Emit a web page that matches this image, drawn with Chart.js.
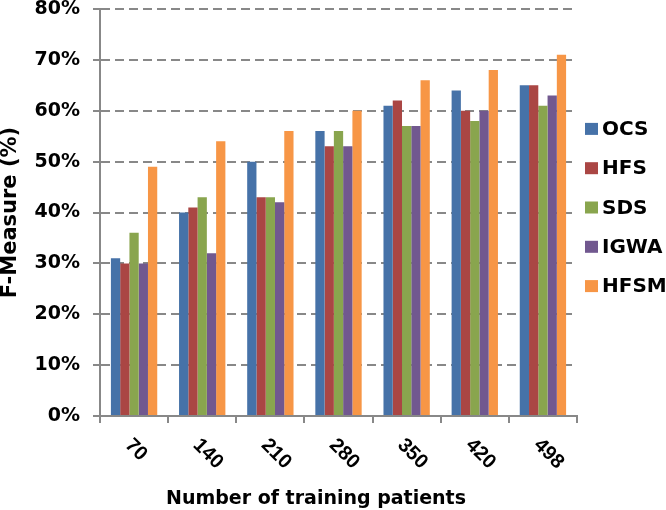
<!DOCTYPE html>
<html>
<head>
<meta charset="utf-8">
<script src="https://cdn.jsdelivr.net/npm/chart.js@4"></script>
<style>
  html, body { margin: 0; padding: 0; background: #ffffff; }
  #wrap { width: 666px; height: 510px; }
</style>
</head>
<body>
<div id="wrap"><canvas id="chart" width="666" height="510"></canvas></div>
<script>
// categories and series
const patients = ['70', '140', '210', '280', '350', '420', '498'];
const seriesNames = ['OCS', 'HFS', 'SDS', 'IGWA', 'HFSM'];
const ocs  = [31, 40, 50, 56, 61, 64, 65];
const hfs  = [30, 41, 43, 53, 62, 60, 65];
const sds  = [36, 43, 43, 56, 57, 58, 61];
const igwa = [30, 32, 42, 53, 57, 60, 63];
const hfsm = [49, 54, 56, 60, 66, 68, 71];
const colors = ['#4672a8', '#aa4644', '#89a54e', '#71588f', '#f79646'];
const xTitle = 'Number of training patients';

const WIDE = '"DejaVu Sans", sans-serif';
const ARIAL = '"Liberation Sans", Arial, sans-serif';
const GRID = '#888888';

// x labels lean down to the right, chart.js only rotates the other way
const tiltedLabels = {
    id: 'tiltedLabels',
    afterDraw(chart) {
        const sx = chart.scales.x;
        const ctx = chart.ctx;
        ctx.save();
        ctx.fillStyle = '#000';
        ctx.font = 'bold 20px ' + ARIAL;
        ctx.textAlign = 'left';
        ctx.textBaseline = 'middle';
        patients.forEach((lab, i) => {
            const x = sx.getPixelForTick(i);
            ctx.save();
            ctx.translate(x - 6, sx.top + 26);
            ctx.rotate(Math.PI / 4);
            ctx.fillText(lab, 0, 0);
            ctx.restore();
        });
        // axis title sits a bit left of the plot centre in the original
        ctx.font = 'bold 19px ' + WIDE;
        ctx.textAlign = 'center';
        ctx.textBaseline = 'alphabetic';
        ctx.fillText(xTitle, 316, 504);
        ctx.restore();
    }
};

// legend drawn by hand: narrow gap to the plot but wide row spacing
const sideLegend = {
    id: 'sideLegend',
    afterDraw(chart) {
        const ctx = chart.ctx;
        const area = chart.chartArea;
        const mid = (area.top + area.bottom) / 2 - 5;
        ctx.save();
        ctx.font = 'bold 20px ' + WIDE;
        ctx.textBaseline = 'middle';
        ctx.textAlign = 'left';
        chart.data.datasets.forEach((d, i) => {
            const y = mid + (i - 2) * 39.3;
            ctx.fillStyle = d.backgroundColor;
            ctx.fillRect(area.right + 8, y - 6, 13, 12);
            ctx.fillStyle = '#000';
            ctx.fillText(d.label, area.right + 25, y + 1);
        });
        ctx.restore();
    }
};

const seriesData = [ocs, hfs, sds, igwa, hfsm];

new Chart(document.getElementById('chart'), {
    type: 'bar',
    data: {
        labels: patients,
        datasets: seriesNames.map((name, i) => ({
            label: name,
            data: seriesData[i],
            backgroundColor: colors[i],
            borderWidth: 0,
            categoryPercentage: 0.68,
            barPercentage: 1.0
        }))
    },
    options: {
        responsive: false,
        animation: false,
        layout: { padding: { left: 0, right: 89, top: 9, bottom: 0 } },
        plugins: {
            legend: { display: false },
            tooltip: { enabled: false }
        },
        scales: {
            x: {
                offset: true,
                afterFit: s => { s.height = 94; s.paddingLeft = 0; s.paddingRight = 0; },
                border: { display: true, color: GRID, width: 2 },
                grid: {
                    offset: true,
                    drawOnChartArea: false,
                    drawTicks: true,
                    tickLength: 7,
                    color: GRID,
                    lineWidth: 2
                },
                ticks: {
                    color: 'rgba(0,0,0,0)',
                    font: { family: ARIAL, size: 19, weight: 'bold' }
                }
            },
            y: {
                min: 0,
                max: 80,
                afterFit: s => { s.width = 100; s.paddingTop = 0; s.paddingBottom = 0; },
                border: { display: true, color: GRID, width: 2, dash: [9, 5] },
                grid: {
                    color: GRID,
                    lineWidth: 2,
                    tickLength: 7,
                    tickBorderDash: []
                },
                ticks: {
                    stepSize: 10,
                    padding: 13,
                    color: '#000',
                    font: { family: WIDE, size: 19, weight: 'bold' },
                    callback: v => v + '%'
                },
                title: {
                    display: true,
                    text: 'F-Measure (%)',
                    color: '#000',
                    font: { family: WIDE, size: 21, weight: 'bold', lineHeight: 1 },
                    padding: { top: 0, bottom: 0 }
                }
            }
        }
    },
    plugins: [tiltedLabels, sideLegend]
});
</script>
</body>
</html>
